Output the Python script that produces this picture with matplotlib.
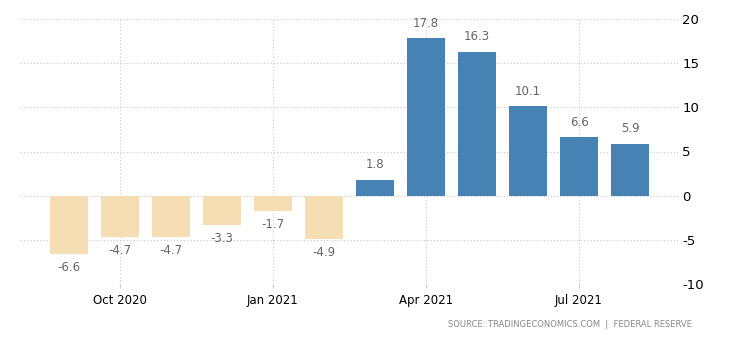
import matplotlib.pyplot as plt

# Monthly values, Sep 2020 - Aug 2021
meses = ['Sep 2020', 'Oct 2020', 'Nov 2020', 'Dec 2020', 'Jan 2021', 'Feb 2021',
         'Mar 2021', 'Apr 2021', 'May 2021', 'Jun 2021', 'Jul 2021', 'Aug 2021']
valores = [-6.6, -4.7, -4.7, -3.3, -1.7, -4.9, 1.8, 17.8, 16.3, 10.1, 6.6, 5.9]
rotulos_x = ['Oct 2020', 'Jan 2021', 'Apr 2021', 'Jul 2021']
ticks_y = [-10, -5, 0, 5, 10, 15, 20]

fig = plt.figure(figsize=(7.3, 3.4), dpi=100)
ax = fig.add_axes([20 / 730, 56 / 340, 658 / 730, 265 / 340])

pos = list(range(len(valores)))
cores = ['#4682b4' if v >= 0 else '#f5deb3' for v in valores]
ax.bar(pos, valores, width=0.745, color=cores, zorder=2)

# value labels above/below bars
for x, v in zip(pos, valores):
    if v >= 0:
        ax.annotate(f'{v}', (x, v), xytext=(0, 6), textcoords='offset points',
                    ha='center', va='bottom', fontsize=8.5, color='#666666')
    else:
        ax.annotate(f'{v}', (x, v), xytext=(0, -5), textcoords='offset points',
                    ha='center', va='top', fontsize=8.5, color='#666666')

ax.set_xlim(-0.96, 11.94)
ax.set_ylim(-10, 20)
ax.set_xticks([meses.index(m) for m in rotulos_x])
ax.set_xticklabels(rotulos_x, fontsize=8.5)
ax.set_yticks(ticks_y)
ax.set_yticklabels([str(t) for t in ticks_y], fontsize=9.5)
ax.yaxis.tick_right()
ax.tick_params(axis='y', length=0, pad=3)
ax.tick_params(axis='x', length=3, color='#cccccc', pad=4)

for s in ax.spines.values():
    s.set_visible(False)
ax.grid(True, linestyle=(0, (1, 2)), color='#c8c8c8', linewidth=0.8, zorder=0)
ax.set_axisbelow(True)

fig.text(0.781, 0.047, 'SOURCE: TRADINGECONOMICS.COM  |  FEDERAL RESERVE',
         ha='center', va='center', fontsize=6, color='#888888')

plt.savefig('out.png', dpi=100)
